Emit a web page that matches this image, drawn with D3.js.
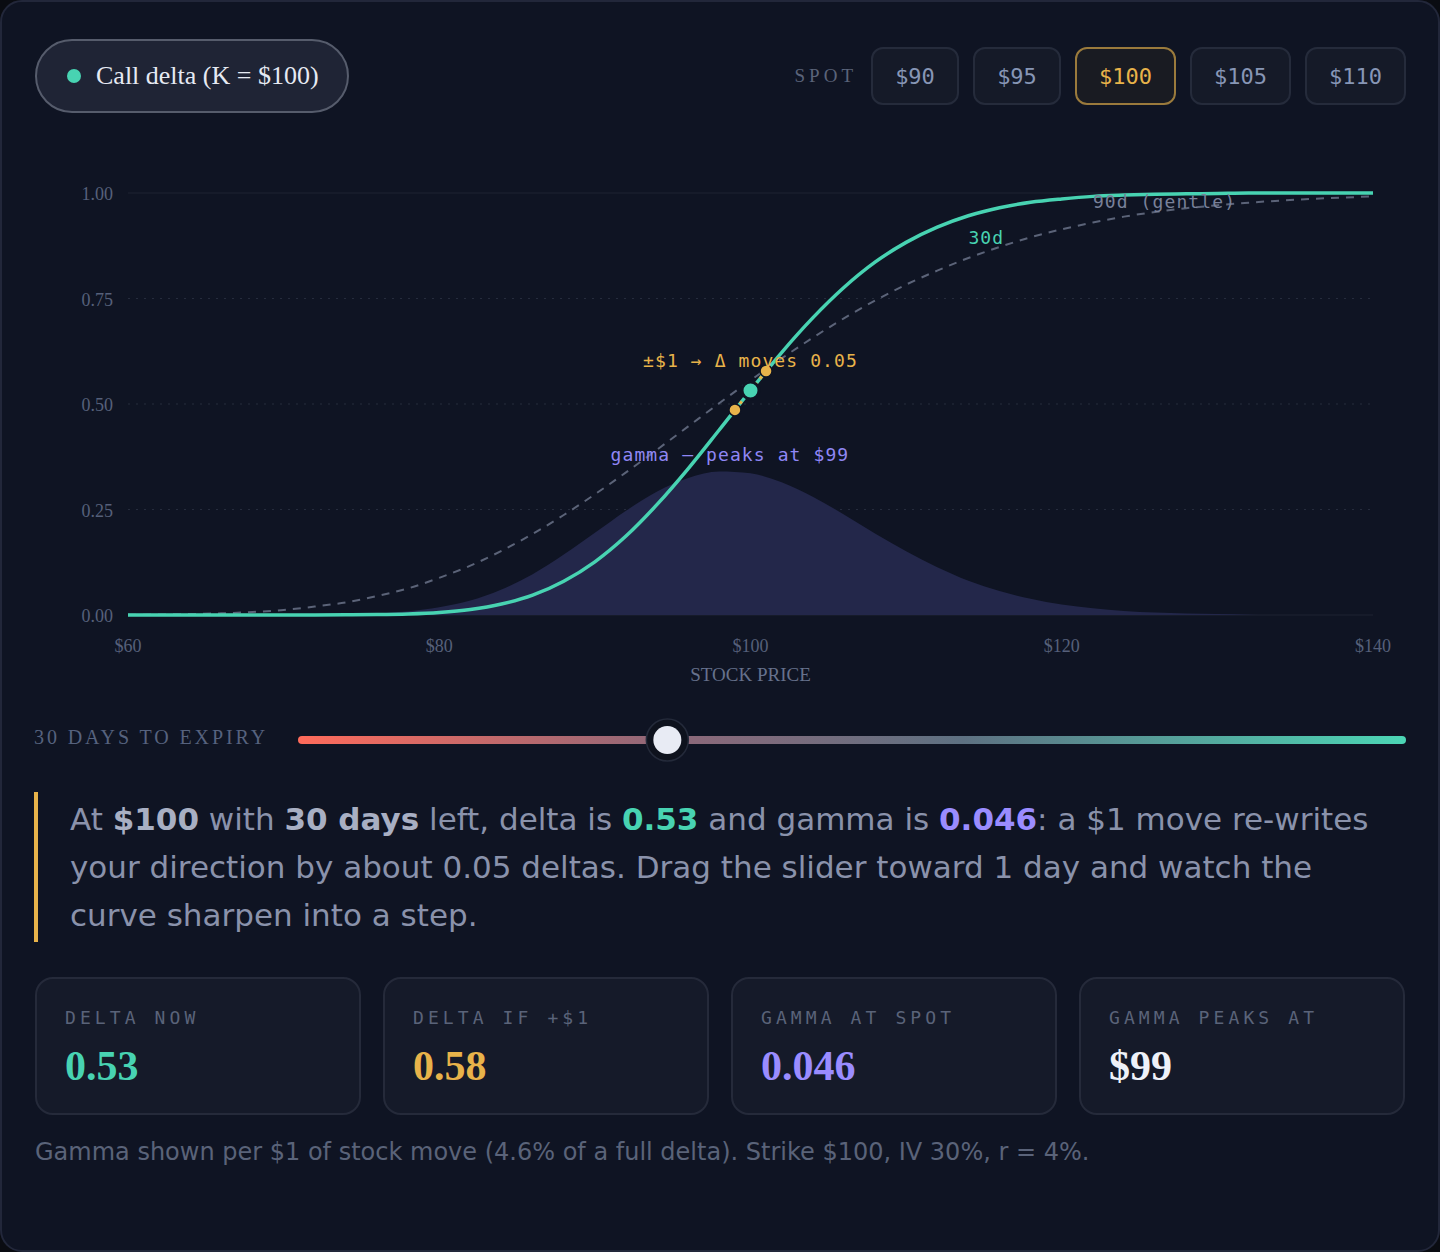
<!DOCTYPE html>
<html>
<head>
<meta charset="utf-8">
<script src="https://cdn.jsdelivr.net/npm/d3@7"></script>
<style>
  html, body { margin: 0; padding: 0; background: #0a0c12; width: 1440px; height: 1252px; overflow: hidden; }
  .card { position: absolute; left: 0; top: 0; width: 1436px; height: 1248px; border: 2px solid #22273a; border-radius: 22px; background: #0f1423; }
  .pill { position: absolute; left: 35px; top: 39px; width: 310px; height: 70px; border: 2px solid #565c6c; border-radius: 37px; background: #1f2435; display: flex; align-items: center; box-sizing: content-box; }
  .pill .dot { width: 14px; height: 14px; border-radius: 50%; background: #48d3b2; margin-left: 30px; margin-right: 15px; }
  .pill .lbl { font-family: "Liberation Serif", serif; font-size: 26px; color: #e6eaf3; }
  .spot { position: absolute; right: 34px; top: 47px; display: flex; align-items: center; gap: 14px; }
  .spot .lab { font-family: "Liberation Serif", serif; font-size: 19px; letter-spacing: 4px; color: #5a6379; }
  .spot .btn { height: 55px; box-sizing: border-box; height: 58px; border: 2px solid #252b3b; border-radius: 12px; background: #151a28; display: flex; align-items: center; justify-content: center; font-family: "DejaVu Sans Mono", monospace; font-size: 22px; color: #8796b6; }
  .spot .btn.on { border-color: #9a7a3c; color: #e8b34a; background: #191b22; }
  svg { position: absolute; left: 0; top: 0; }
  .para { position: absolute; left: 34px; top: 792px; width: 1320px; border-left: 4px solid #e8b34a; padding: 3px 0 3px 32px; font-family: "DejaVu Sans", sans-serif; font-size: 31px; line-height: 48px; color: #8a92ab; }
  .para b { color: #a8afc3; }
  .para b.t { color: #48d3b2; }
  .para b.p { color: #9a8cff; }
  .stats { position: absolute; left: 35px; top: 977px; display: flex; gap: 22px; }
  .stat { width: 322px; height: 134px; border: 2px solid #252a3a; border-radius: 18px; background: #151a29; position: relative; }
  .stat .k { position: absolute; left: 28px; top: 28px; font-family: "DejaVu Sans Mono", monospace; font-size: 18px; letter-spacing: 4.1px; color: #5a6379; }
  .stat .v { position: absolute; left: 28px; top: 63px; font-family: "Liberation Serif", serif; font-weight: bold; font-size: 42px; }
  .foot { position: absolute; left: 35px; top: 1138px; font-family: "DejaVu Sans", sans-serif; font-size: 24px; color: #5a6379; }
</style>
</head>
<body>
<div class="card"></div>
<div class="pill"><div class="dot"></div><div class="lbl">Call delta (K = $100)</div></div>
<div class="spot" id="spot"><div class="lab">SPOT</div></div>
<svg id="chart" width="1440" height="780"></svg>
<div class="para">At <b>$100</b> with <b>30 days</b> left, delta is <b class="t">0.53</b> and gamma is <b class="p">0.046</b>: a $1 move re-writes your direction by about 0.05 deltas. Drag the slider toward 1 day and watch the curve sharpen into a step.</div>
<div class="stats" id="stats"></div>
<div class="foot">Gamma shown per $1 of stock move (4.6% of a full delta). Strike $100, IV 30%, r = 4%.</div>
<script>
// values
const prices = [60, 62, 64, 66, 68, 70, 72, 74, 76, 78, 80, 82, 84, 86, 88, 90, 92, 94, 96, 98, 100,
  102, 104, 106, 108, 110, 112, 114, 116, 118, 120, 122, 124, 126, 128, 130, 132, 134, 136, 138, 140];
const delta30 = [0, 0, 0, 0, 0, 0, 0, 0.0003, 0.0009, 0.0025, 0.006, 0.013, 0.026, 0.047, 0.080, 0.126, 0.187, 0.262, 0.347, 0.439, 0.532,
  0.622, 0.704, 0.776, 0.836, 0.883, 0.919, 0.946, 0.965, 0.978, 0.986, 0.992, 0.995, 0.997, 0.998, 0.999, 1, 1, 1, 1, 1];
const delta90 = [0.0005, 0.0011, 0.0022, 0.004, 0.0072, 0.012, 0.020, 0.030, 0.045, 0.063, 0.088, 0.117, 0.152, 0.192, 0.237, 0.286, 0.338, 0.392, 0.447, 0.502, 0.556,
  0.608, 0.657, 0.703, 0.745, 0.783, 0.816, 0.846, 0.872, 0.895, 0.914, 0.930, 0.944, 0.955, 0.964, 0.971, 0.977, 0.982, 0.986, 0.989, 0.992];
const gamma30 = [0, 0, 0, 0, 0, 0, 0.00006, 0.00018, 0.0005, 0.0012, 0.0025, 0.0047, 0.0083, 0.0133, 0.0197, 0.0268, 0.0340, 0.0403, 0.0447, 0.0468, 0.0462,
  0.0433, 0.0386, 0.0328, 0.0266, 0.0208, 0.0156, 0.0112, 0.0078, 0.0053, 0.0034, 0.0022, 0.0013, 0.0008, 0.0005, 0.0003, 0.0001, 0, 0, 0, 0];
const yTicks = [0, 0.25, 0.5, 0.75, 1];
const xTicks = [60, 80, 100, 120, 140];
const spotChoices = [90, 95, 100, 105, 110];
const spot = 100;
const nudge = [99, 101];         // ±$1 markers
const nudgeDelta = [0.486, 0.578];
const spotDelta = 0.532;
const gammaPeak = { price: 99, value: 0.0468 };
const days = 30, maxDays = 90;
const statLabels = ['DELTA NOW', 'DELTA IF +$1', 'GAMMA AT SPOT', 'GAMMA PEAKS AT'];
const statValues = ['0.53', '0.58', '0.046', '$99'];
const statColors = ['#48d3b2', '#e8b34a', '#9a8cff', '#eef1f8'];

const TEAL = '#48d3b2', ORANGE = '#e8b34a', PURPLE = '#8f87f5';

// spot buttons (widths follow label length)
d3.select('#spot').selectAll('.btn').data(spotChoices).join('div')
  .attr('class', d => d === spot ? 'btn on' : 'btn')
  .style('width', d => (String(d).length === 2 ? 88 : 101) + 'px')
  .text(d => '$' + d);

// stat cards
d3.select('#stats').selectAll('.stat').data(statLabels).join('div')
  .attr('class', 'stat')
  .each(function (d, i) {
    const s = d3.select(this);
    s.append('div').attr('class', 'k').text(d);
    s.append('div').attr('class', 'v').style('color', statColors[i]).text(statValues[i]);
  });

// chart
const svg = d3.select('#chart');
const x = d3.scaleLinear().domain([60, 140]).range([128, 1373]);
const y = d3.scaleLinear().domain([0, 1]).range([615, 193]);
const yG = d3.scaleLinear().domain([0, gammaPeak.value / 0.34]).range([615, 193]);

const serif = '"Liberation Serif", serif';
const mono = '"DejaVu Sans Mono", monospace';

// grid
svg.append('g').selectAll('line').data(yTicks).join('line')
  .attr('x1', x(60)).attr('x2', x(140))
  .attr('y1', d => y(d)).attr('y2', d => y(d))
  .attr('stroke', d => (d === 0 || d === 1) ? '#1e2333' : '#262c3d')
  .attr('stroke-width', 1.2)
  .attr('stroke-dasharray', d => (d === 0 || d === 1) ? null : '2,6');

// y axis labels
svg.append('g').selectAll('text').data(yTicks).join('text')
  .attr('x', x(60) - 15).attr('y', d => y(d) + 7)
  .attr('text-anchor', 'end')
  .attr('font-family', serif).attr('font-size', 18).attr('fill', '#56607a')
  .text(d => d.toFixed(2));

// x axis labels
svg.append('g').selectAll('text').data(xTicks).join('text')
  .attr('x', d => x(d)).attr('y', 652)
  .attr('text-anchor', 'middle')
  .attr('font-family', serif).attr('font-size', 18).attr('fill', '#56607a')
  .text(d => '$' + d);

svg.append('text').attr('x', x(100)).attr('y', 681).attr('text-anchor', 'middle')
  .attr('font-family', serif).attr('font-size', 19).attr('fill', '#66718c')
  .text('STOCK PRICE');

const pts = v => prices.map((p, j) => [p, v[j]]);

// gamma area
svg.append('path')
  .datum(pts(gamma30))
  .attr('fill', '#23274a')
  .attr('d', d3.area().x(d => x(d[0])).y0(yG(0)).y1(d => yG(d[1])).curve(d3.curveMonotoneX));

// 90d dashed
svg.append('path')
  .datum(pts(delta90))
  .attr('fill', 'none').attr('stroke', '#5b6378').attr('stroke-width', 2).attr('stroke-dasharray', '8,7')
  .attr('d', d3.line().x(d => x(d[0])).y(d => y(d[1])).curve(d3.curveMonotoneX));

// 30d solid
svg.append('path')
  .datum(pts(delta30))
  .attr('fill', 'none').attr('stroke', TEAL).attr('stroke-width', 3.5)
  .attr('d', d3.line().x(d => x(d[0])).y(d => y(d[1])).curve(d3.curveMonotoneX));

// labels
svg.append('text').attr('x', x(114)).attr('y', y(0.88))
  .attr('font-family', mono).attr('font-size', 18).attr('letter-spacing', 1.1).attr('fill', TEAL).text('30d');
svg.append('text').attr('x', x(122)).attr('y', y(0.964))
  .attr('font-family', mono).attr('font-size', 18).attr('letter-spacing', 1.1).attr('fill', '#79819a').text('90d (gentle)');

svg.append('text').attr('x', x(gammaPeak.price) - 5).attr('y', yG(gammaPeak.value) - 11)
  .attr('text-anchor', 'middle')
  .attr('font-family', mono).attr('font-size', 18).attr('letter-spacing', 1.1).attr('fill', PURPLE)
  .text('gamma — peaks at $' + gammaPeak.price);

// ±$1 connector and dots
svg.append('line')
  .attr('x1', x(nudge[0])).attr('y1', y(nudgeDelta[0]))
  .attr('x2', x(nudge[1])).attr('y2', y(nudgeDelta[1]))
  .attr('stroke', ORANGE).attr('stroke-width', 3).attr('stroke-dasharray', '3,5');

svg.append('g').selectAll('circle').data(nudge).join('circle')
  .attr('cx', d => x(d)).attr('cy', (d, i) => y(nudgeDelta[i]))
  .attr('r', 6).attr('fill', ORANGE).attr('stroke', '#0f1423').attr('stroke-width', 1.5);

svg.append('circle').attr('cx', x(spot)).attr('cy', y(spotDelta))
  .attr('r', 8.5).attr('fill', TEAL).attr('stroke', '#0f1423').attr('stroke-width', 3);

svg.append('text').attr('x', x(spot)).attr('y', y(nudgeDelta[1]) - 4)
  .attr('text-anchor', 'middle')
  .attr('font-family', mono).attr('font-size', 18).attr('letter-spacing', 1.1).attr('fill', ORANGE)
  .text('±$1 → Δ moves 0.05');

// expiry slider
const s = d3.scaleLinear().domain([0, maxDays]).range([298, 1406]);
const grad = svg.append('defs').append('linearGradient').attr('id', 'track')
  .attr('gradientUnits', 'userSpaceOnUse').attr('x1', s(0)).attr('x2', s(maxDays)).attr('y1', 0).attr('y2', 0);
[[0, '#ff6b5b'], [0.33, '#8f6879'], [0.6, '#5e7182'], [1, '#4cd6b5']].forEach(([o, c]) =>
  grad.append('stop').attr('offset', o).attr('stop-color', c));

svg.append('text').attr('x', 34).attr('y', 744)
  .attr('font-family', serif).attr('font-size', 20).attr('letter-spacing', 2.9).attr('fill', '#56627e')
  .text(days + ' DAYS TO EXPIRY');

svg.append('rect').attr('x', s(0)).attr('y', 736).attr('width', s(maxDays) - s(0)).attr('height', 8)
  .attr('rx', 4).attr('fill', 'url(#track)');

svg.append('circle').attr('cx', s(days)).attr('cy', 740).attr('r', 21)
  .attr('fill', '#0e121d').attr('stroke', '#242a3a').attr('stroke-width', 1.5);
svg.append('circle').attr('cx', s(days)).attr('cy', 740).attr('r', 14).attr('fill', '#e8ebf4');
</script>
</body>
</html>
